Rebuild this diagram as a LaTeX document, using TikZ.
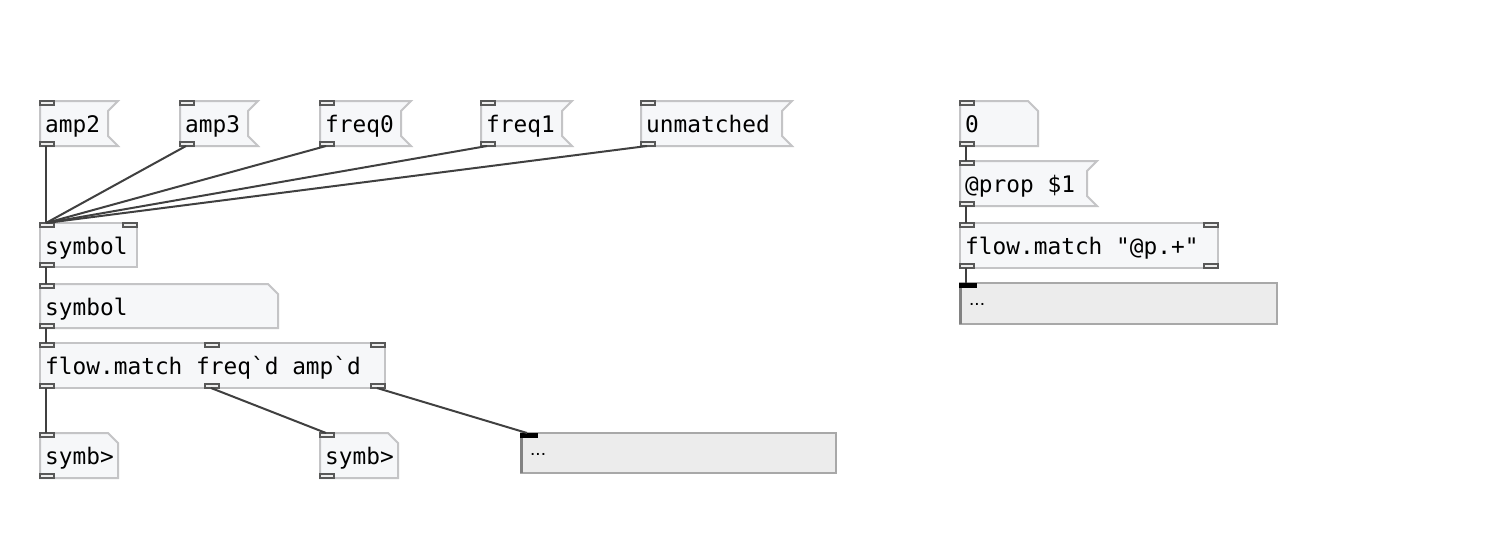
\documentclass[tikz,border=0pt]{standalone}
\usepackage{fontspec}
\newfontfamily\pdfont[Ligatures=TeXOff]{DejaVu Sans Mono}
\newfontfamily\dispfont{Liberation Sans}
\definecolor{boxfill}{RGB}{246,247,249}
\definecolor{boxline}{RGB}{196,196,198}
\definecolor{iodark}{RGB}{88,88,88}
\definecolor{iofill}{RGB}{238,238,238}
\definecolor{wirecol}{RGB}{64,64,64}
\definecolor{dispfill}{RGB}{236,236,236}
\definecolor{displine}{RGB}{168,168,168}
\definecolor{dispdark}{RGB}{130,130,130}
\tikzset{
  boxsty/.style={draw=boxline, fill=boxfill, line width=2pt, line join=miter},
  iolet/.style={draw=iodark, fill=iofill, line width=1.6pt, minimum width=14pt,
    minimum height=4pt, inner sep=0pt, outer sep=0pt},
  inblack/.style={fill=black, draw=none, minimum width=18pt, minimum height=5pt,
    inner sep=0pt, outer sep=0pt},
  boxtext/.style={anchor=base west, inner sep=0pt,
    font=\pdfont\fontsize{22.8}{26}\selectfont, text=black},
  disptext/.style={anchor=base west, inner sep=0pt,
    font=\dispfont\fontsize{19}{22}\selectfont, text=black},
  wire/.style={draw=wirecol, line width=2pt},
}
% message box: name, x, y, inner width, text
\newcommand\pdmsg[5]{%
  \draw[boxsty] (#2,#3) -- ++(#4+10,0) -- ++(-10,10) -- ++(0,25) -- ++(10,10)
    -- ++(-#4-10,0) -- cycle;
  \node[boxtext] (#1) at (#2+5,#3+31) {#5};
  \node[iolet,anchor=north west] (#1-in) at (#2,#3) {};
  \node[iolet,anchor=south west] (#1-out) at (#2,#3+45) {};
}
% atom box: name, x, y, width, height, text
\newcommand\pdatom[6]{%
  \draw[boxsty] (#2,#3) -- ++(#4-10,0) -- ++(10,10) -- ++(0,#5-10) -- ++(-#4,0) -- cycle;
  \node[boxtext] (#1) at (#2+5,#3+31) {#6};
  \node[iolet,anchor=north west] (#1-in) at (#2,#3) {};
  \node[iolet,anchor=south west] (#1-out) at (#2,#3+#5) {};
}
% object box: name, x, y, width, height, text
\newcommand\pdobj[6]{%
  \draw[boxsty] (#2,#3) rectangle ++(#4,#5);
  \node[boxtext] (#1) at (#2+5,#3+31) {#6};
  \node[iolet,anchor=north west] (#1-in) at (#2,#3) {};
  \node[iolet,anchor=south west] (#1-out) at (#2,#3+#5) {};
}
% display box: name, x, y, width, height
\newcommand\pddisp[5]{%
  \draw[fill=dispfill, draw=displine, line width=2pt] (#2,#3) rectangle ++(#4,#5);
  \draw[dispdark, line width=3pt] (#2+0.5,#3) -- ++(0,#5);
  \node[disptext] (#1) at (#2+9,#3+22) {...};
  \node[inblack,anchor=north west] (#1-in) at (#2-1,#3) {};
}
\begin{document}
\begin{tikzpicture}[x=1pt,y=-1pt]
\useasboundingbox[fill=white] (0,0) rectangle (1490,538);

% left patch
\pdmsg{amp2}{40}{101}{68}{amp2}
\pdmsg{amp3}{180}{101}{68}{amp3}
\pdmsg{freq0}{320}{101}{81}{freq0}
\pdmsg{freq1}{481}{101}{81}{freq1}
\pdmsg{unm}{641}{101}{141}{unmatched}

\pdobj{sym}{40}{223}{97}{44}{symbol}
\node[iolet,anchor=north east] (sym-in1) at (137,223) {};

\pdatom{symat}{40}{284}{238}{44}{symbol}

\pdobj{fm}{40}{343}{345}{45}{flow.match freq`d amp`d}
\node[iolet,anchor=north west] (fm-in1) at (205,343) {};
\node[iolet,anchor=north east] (fm-in2) at (385,343) {};
\node[iolet,anchor=south west] (fm-out1) at (205,388) {};
\node[iolet,anchor=south east] (fm-out2) at (385,388) {};

\pdatom{sa}{40}{433}{78}{45}{symb>}
\pdatom{sb}{320}{433}{78}{45}{symb>}
\pddisp{da}{521}{433}{315}{40}

% right patch
\pdatom{zero}{960}{101}{78}{45}{0}
\pdmsg{prop}{960}{161}{127}{@prop \$1}
\pdobj{fmb}{960}{223}{258}{45}{flow.match "@p.+"}
\node[iolet,anchor=north east] (fmb-in1) at (1218,223) {};
\node[iolet,anchor=south east] (fmb-out1) at (1218,268) {};
\pddisp{db}{960}{283}{317}{41}

% connections
\foreach \src in {amp2,amp3,freq0,freq1,unm}
  \draw[wire] ([xshift=6pt]\src-out.south west) -- ([xshift=6pt]sym-in.north west);
\draw[wire] ([xshift=6pt]sym-out.south west) -- ([xshift=6pt]symat-in.north west);
\draw[wire] ([xshift=6pt]symat-out.south west) -- ([xshift=6pt]fm-in.north west);
\draw[wire] ([xshift=6pt]fm-out.south west) -- ([xshift=6pt]sa-in.north west);
\draw[wire] ([xshift=6pt]fm-out1.south west) -- ([xshift=6pt]sb-in.north west);
\draw[wire] ([xshift=6pt]fm-out2.south west) -- ([xshift=7pt]da-in.north west);
\draw[wire] ([xshift=6pt]zero-out.south west) -- ([xshift=6pt]prop-in.north west);
\draw[wire] ([xshift=6pt]prop-out.south west) -- ([xshift=6pt]fmb-in.north west);
\draw[wire] ([xshift=6pt]fmb-out.south west) -- ([xshift=7pt]db-in.north west);
\end{tikzpicture}
\end{document}
